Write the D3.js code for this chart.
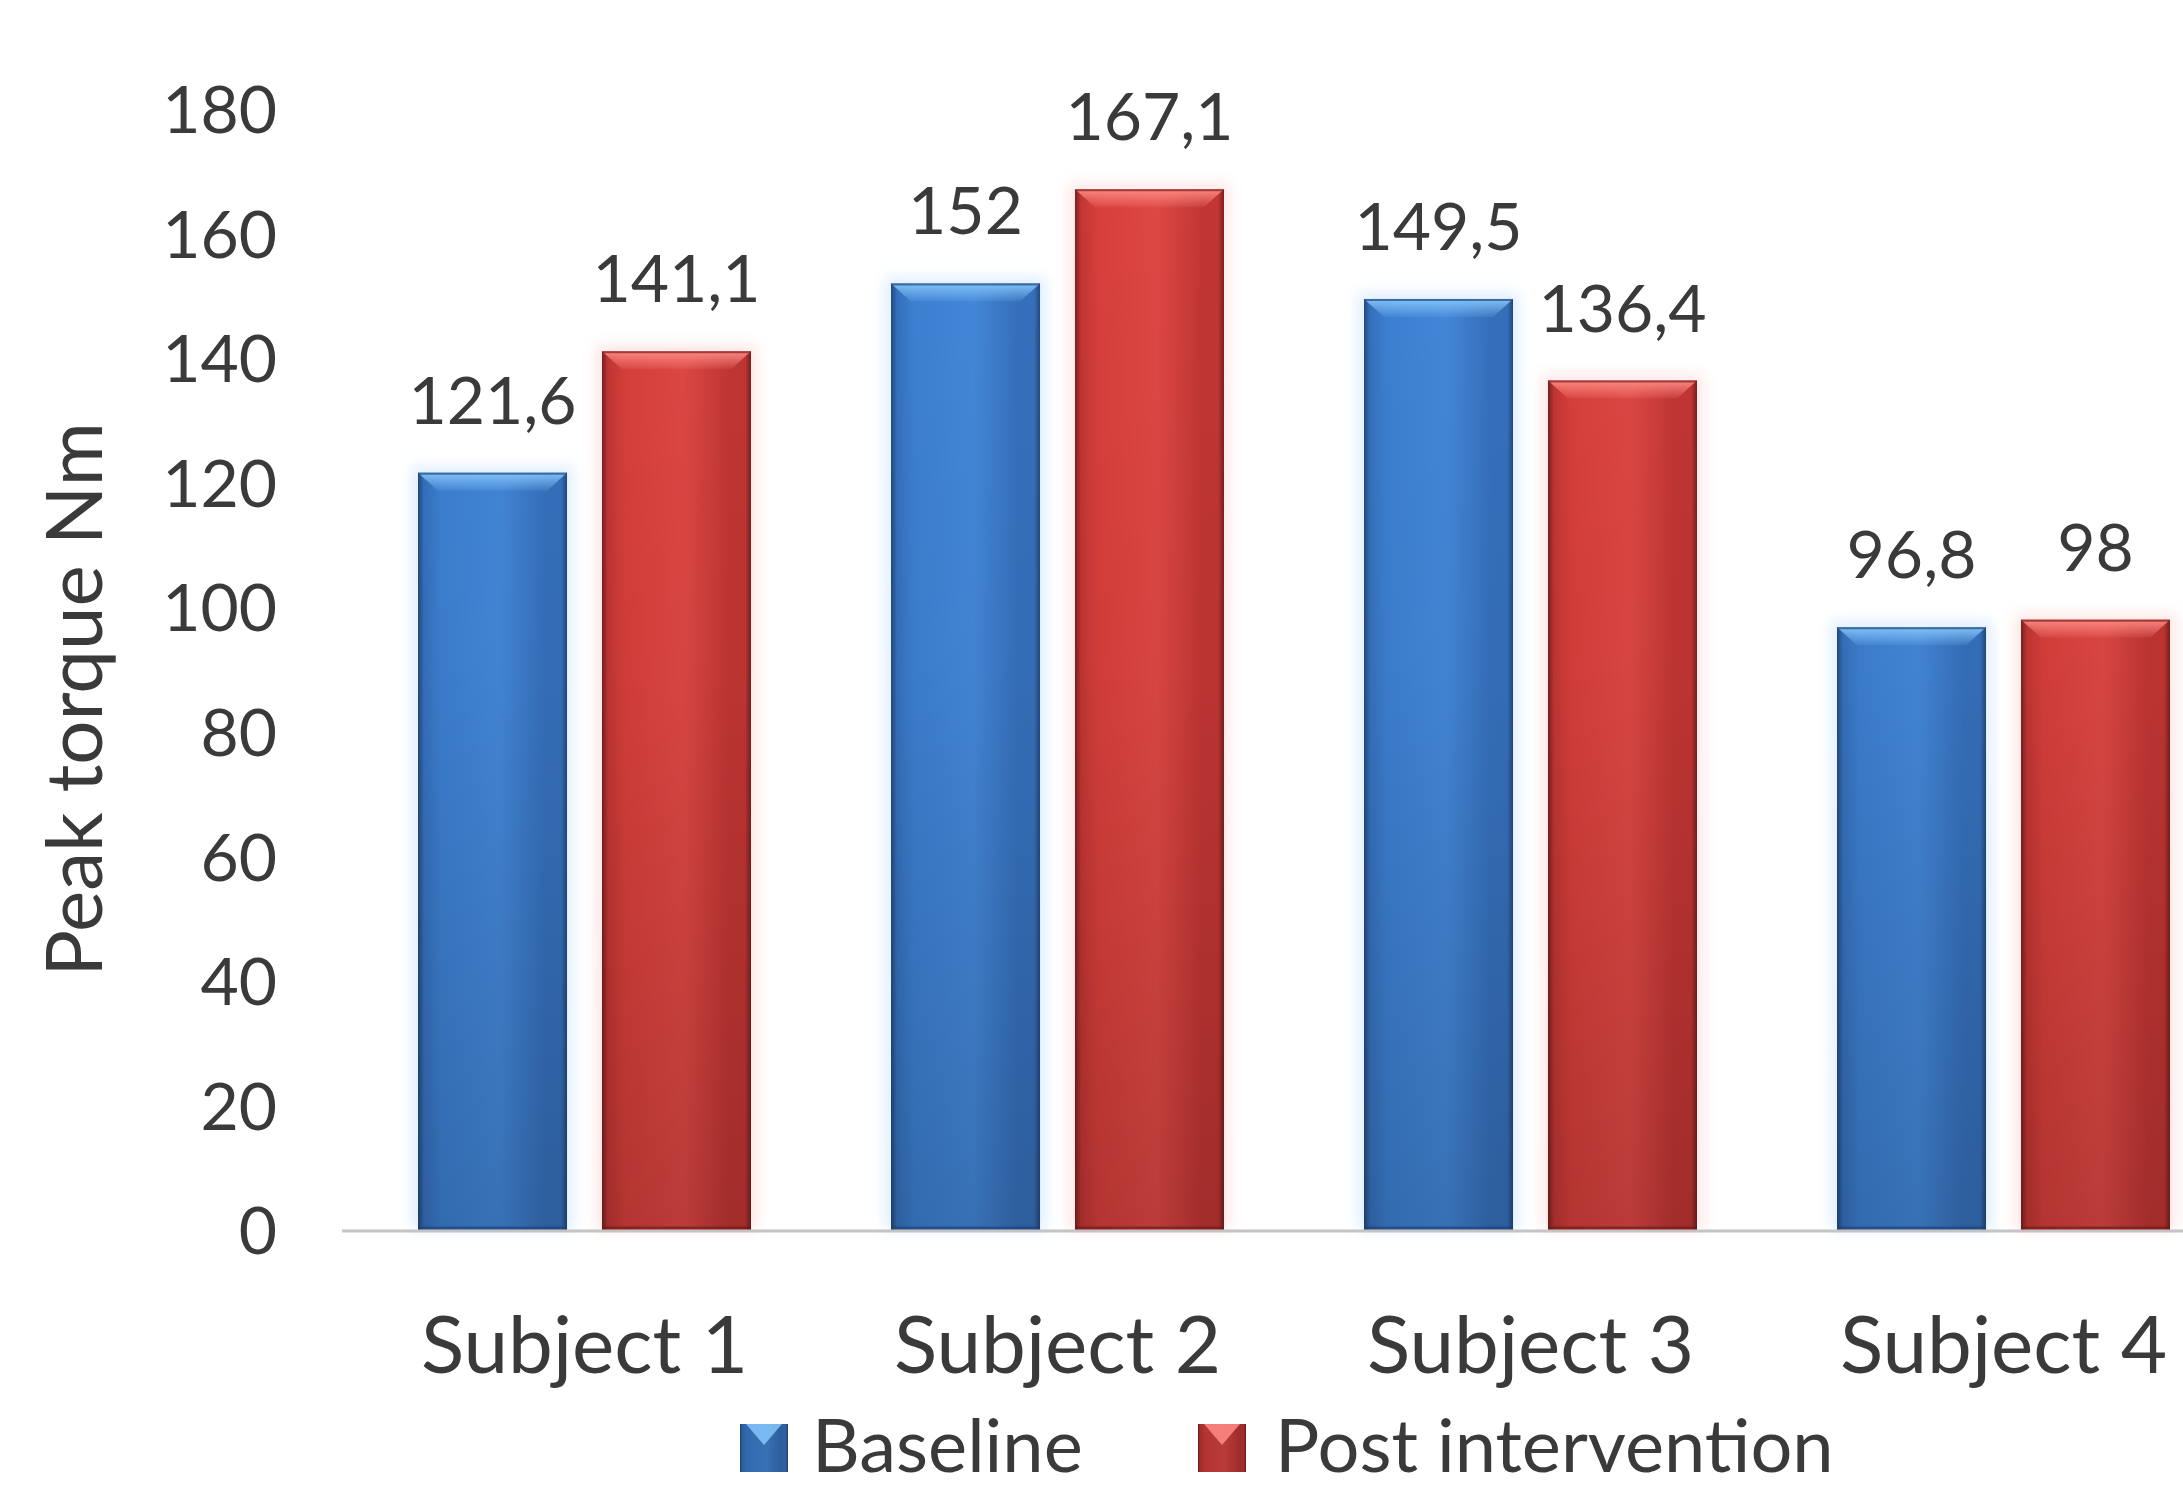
<!DOCTYPE html>
<html>
<head>
<meta charset="utf-8">
<script src="https://cdn.jsdelivr.net/npm/d3@7"></script>
<style>
  html, body { margin: 0; padding: 0; background: #ffffff; }
  svg { display: block; }
  text { font-family: Lato, "Open Sans", sans-serif; fill: #3a3a3a; }
</style>
</head>
<body>
<svg id="chart" width="2183" height="1491"></svg>
<script>
// Peak torque per subject, baseline vs post intervention
const subjects = ["Subject 1", "Subject 2", "Subject 3", "Subject 4"];
const seriesNames = ["Baseline", "Post intervention"];
const baseline = [121.6, 152, 149.5, 96.8];
const postIntervention = [141.1, 167.1, 136.4, 98];
const yTicks = [0, 20, 40, 60, 80, 100, 120, 140, 160, 180];
const yLabel = "Peak torque Nm";

const W = 2183, H = 1491;
const FONT = "Lato, 'Open Sans', sans-serif";
const svg = d3.select("#chart");

const rows = subjects.map((s, i) => ({
  subject: s,
  values: [
    { series: seriesNames[0], value: baseline[i] },
    { series: seriesNames[1], value: postIntervention[i] }
  ]
}));

const y = d3.scaleLinear().domain([0, 180]).range([1230, 109]);
const x0 = d3.scaleBand().domain(subjects).range([348, 348 + 4 * 473]).padding(0);
const x1 = d3.scaleBand().domain(seriesNames).range([70, 403]).paddingInner(0.19).paddingOuter(0);

// ---- gradients and filters for the bevelled bars ----
const defs = svg.append("defs");
const palettes = {
  "Baseline": { edge: "#23497e", body: "#3d80d2", mid: "#4488da", side: "#3671bd", bevel: "#86c6fb", halo: "#b9dbff", bottom: "#1d3f73" },
  "Post intervention": { edge: "#7c1f1f", body: "#d83f3b", mid: "#df4844", side: "#c23634", bevel: "#ff8c86", halo: "#ffc9c6", bottom: "#6e1717" }
};
const key = s => s === "Baseline" ? "base" : "post";

seriesNames.forEach(s => {
  const p = palettes[s];
  const hg = defs.append("linearGradient").attr("id", "h-" + key(s))
    .attr("x1", 0).attr("x2", 1).attr("y1", 0).attr("y2", 0);
  [[0, p.edge], [0.04, p.side], [0.15, p.body], [0.55, p.mid], [0.85, p.side], [0.96, p.side], [1, p.edge]]
    .forEach(([o, c]) => hg.append("stop").attr("offset", o).attr("stop-color", c));

  const bg = defs.append("linearGradient").attr("id", "bevel-" + key(s))
    .attr("x1", 0).attr("x2", 0).attr("y1", 0).attr("y2", 1);
  bg.append("stop").attr("offset", 0).attr("stop-color", p.bevel).attr("stop-opacity", 0.95);
  bg.append("stop").attr("offset", 1).attr("stop-color", p.bevel).attr("stop-opacity", 0.1);
});

const shade = defs.append("linearGradient").attr("id", "shade")
  .attr("gradientUnits", "userSpaceOnUse")
  .attr("x1", 0).attr("x2", 0).attr("y1", y(180)).attr("y2", y(0));
shade.append("stop").attr("offset", 0).attr("stop-color", "#000").attr("stop-opacity", 0);
shade.append("stop").attr("offset", 0.5).attr("stop-color", "#000").attr("stop-opacity", 0.04);
shade.append("stop").attr("offset", 1).attr("stop-color", "#000").attr("stop-opacity", 0.17);

defs.append("filter").attr("id", "halo").attr("x", "-30%").attr("y", "-30%").attr("width", "160%").attr("height", "160%")
  .append("feGaussianBlur").attr("stdDeviation", 7);

// ---- bars ----
const bw = x1.bandwidth();
const groups = svg.append("g").selectAll("g.group").data(rows).join("g")
  .attr("class", "group")
  .attr("transform", d => `translate(${x0(d.subject)},0)`);

const bars = groups.selectAll("g.bar").data(d => d.values).join("g").attr("class", "bar");

bars.append("rect")
  .attr("x", d => x1(d.series) - 6)
  .attr("y", d => y(d.value) - 6)
  .attr("width", bw + 12)
  .attr("height", d => y(0) - y(d.value) + 6)
  .attr("fill", d => palettes[d.series].halo)
  .attr("opacity", 0.45)
  .attr("filter", "url(#halo)");

bars.append("rect")
  .attr("x", d => x1(d.series))
  .attr("y", d => y(d.value))
  .attr("width", bw)
  .attr("height", d => y(0) - y(d.value))
  .attr("fill", d => `url(#h-${key(d.series)})`);

bars.append("rect")
  .attr("x", d => x1(d.series))
  .attr("y", d => y(d.value))
  .attr("width", bw)
  .attr("height", d => y(0) - y(d.value))
  .attr("fill", "url(#shade)");

// top bevel
const bevelH = 18, bevelIn = 20;
bars.append("path")
  .attr("d", d => {
    const x = x1(d.series), t = y(d.value);
    return `M${x},${t}L${x + bw},${t}L${x + bw - bevelIn},${t + bevelH}L${x + bevelIn},${t + bevelH}Z`;
  })
  .attr("fill", d => `url(#bevel-${key(d.series)})`);

bars.append("line")
  .attr("x1", d => x1(d.series)).attr("x2", d => x1(d.series) + bw)
  .attr("y1", d => y(d.value) + 1).attr("y2", d => y(d.value) + 1)
  .attr("stroke", d => palettes[d.series].edge).attr("stroke-width", 2).attr("opacity", 0.7);

bars.append("line")
  .attr("x1", d => x1(d.series)).attr("x2", d => x1(d.series) + bw)
  .attr("y1", y(0) - 2).attr("y2", y(0) - 2)
  .attr("stroke", d => palettes[d.series].bottom).attr("stroke-width", 3).attr("opacity", 0.6);

// value labels
const fmt = v => String(v).replace(".", ",");
bars.append("text")
  .attr("x", d => x1(d.series) + bw / 2)
  .attr("y", d => y(d.value) - 49)
  .attr("text-anchor", "middle")
  .attr("font-size", 66)
  .text(d => fmt(d.value));

// ---- axes ----
svg.append("line")
  .attr("x1", 342).attr("x2", W)
  .attr("y1", y(0) + 1).attr("y2", y(0) + 1)
  .attr("stroke", "#c4c4c4").attr("stroke-width", 3);

const yAxis = svg.append("g").attr("transform", "translate(290,0)")
  .call(d3.axisLeft(y).tickValues(yTicks).tickSize(0).tickPadding(13));
yAxis.select(".domain").remove();
yAxis.selectAll("text")
  .attr("font-size", 66)
  .attr("font-family", FONT)
  .attr("fill", "#3a3a3a")
  .attr("dy", "0.36em");

const xAxis = svg.append("g").attr("transform", `translate(0,${y(0)})`)
  .call(d3.axisBottom(x0).tickSize(0));
xAxis.select(".domain").remove();
xAxis.selectAll("text")
  .attr("font-size", 80)
  .attr("font-family", FONT)
  .attr("fill", "#3a3a3a")
  .attr("dy", null)
  .attr("y", 143);

// y axis title
svg.append("text")
  .attr("transform", `translate(102,${(y(0) + y(180)) / 2 + 30}) rotate(-90)`)
  .attr("text-anchor", "middle")
  .attr("font-size", 78)
  .text(yLabel);

// ---- legend ----
const legendItems = [
  { series: seriesNames[0], mx: 740, tx: 812 },
  { series: seriesNames[1], mx: 1198, tx: 1275 }
];
const legend = svg.append("g").selectAll("g").data(legendItems).join("g");
const ms = 48, my = 1424;
legend.append("rect")
  .attr("x", d => d.mx).attr("y", my).attr("width", ms).attr("height", ms)
  .attr("fill", d => `url(#h-${key(d.series)})`);
legend.append("rect")
  .attr("x", d => d.mx).attr("y", my).attr("width", ms).attr("height", ms)
  .attr("fill", "url(#shade)");
legend.append("path")
  .attr("d", d => `M${d.mx + 6},${my}L${d.mx + ms - 6},${my}L${d.mx + ms / 2},${my + 21}Z`)
  .attr("fill", d => palettes[d.series].bevel).attr("opacity", 0.85);
legend.append("text")
  .attr("x", d => d.tx).attr("y", 1472)
  .attr("font-size", 74)
  .attr("fill", "#2e2e2e")
  .text(d => d.series);
</script>
</body>
</html>
